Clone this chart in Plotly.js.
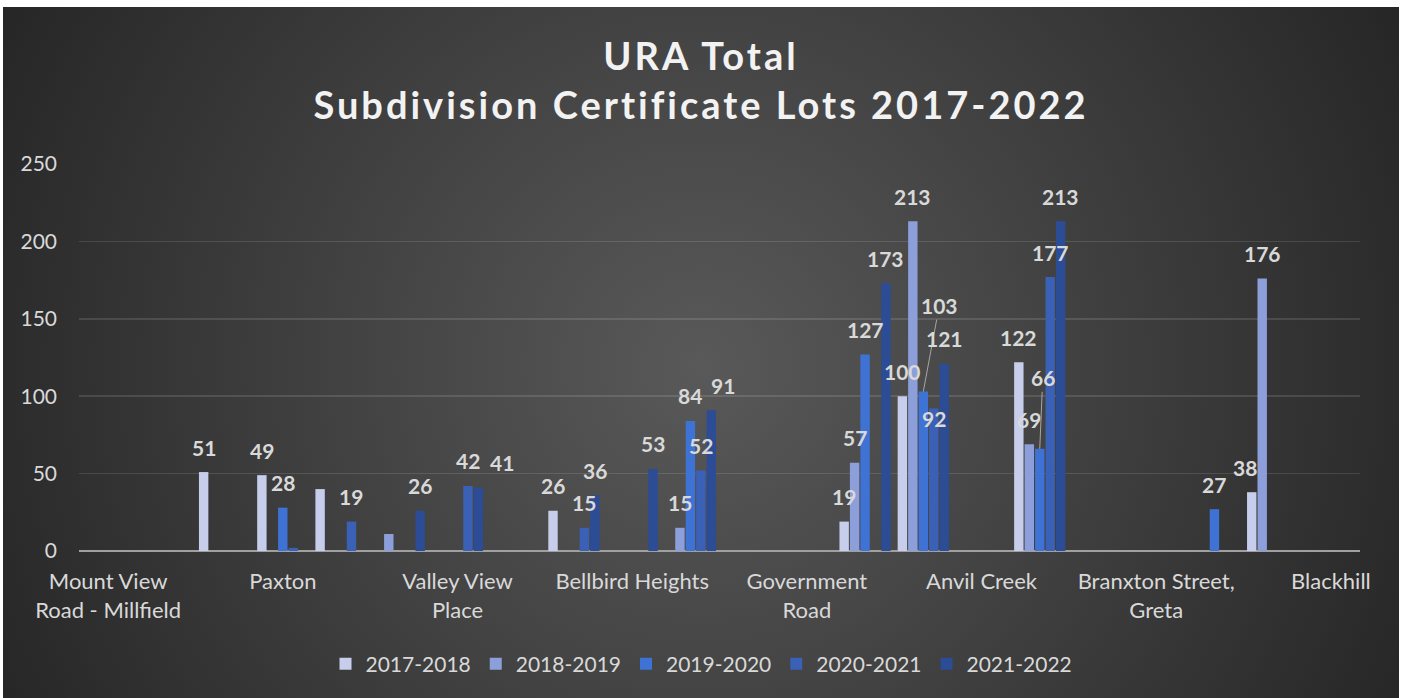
<!DOCTYPE html>
<html>
<head>
<meta charset="utf-8">
<script src="https://cdn.plot.ly/plotly-3.0.1.min.js"></script>
<style>
  html, body { margin: 0; padding: 0; background: #ffffff; }
  #chart {
    position: absolute; left: 3px; top: 7px; width: 1396px; height: 691px;
    background: radial-gradient(circle farthest-corner at 50% 52%, #595959 0%, #454545 40%, #262626 100%);
  }
  #chart .gtitle { letter-spacing: 3px; }
</style>
</head>
<body>
<div id="chart"></div>
<script>
// ---- data ----
const seriesNames = ["2017-2018", "2018-2019", "2019-2020", "2020-2021", "2021-2022"];
const positions = [1, 2, 3, 4, 5, 6, 7, 8, 9, 10, 11, 12, 13, 14, 15, 16, 17, 18, 19, 20, 21, 22];
const labelPositions = [1, 4, 7, 10, 13, 16, 19, 22];
const locationLabels = ["Mount View<br>Road - Millfield", "Paxton", "Valley View<br>Place", "Bellbird Heights",
                        "Government<br>Road", "Anvil Creek", "Branxton Street,<br>Greta", "Blackhill"];
const n = null;
const lots2017 = [n, n, 51, 49, 40, n, n, n, 26, n, n, n, n, 19, 100, n, 122, n, n, n, 38, n];
const lots2018 = [n, n, n, n, n, 11, n, n, n, n, 15, n, n, 57, 213, n, 69, n, n, n, 176, n];
const lots2019 = [n, n, n, 28, n, n, n, n, n, n, 84, n, n, 127, 103, n, 66, n, n, 27, n, n];
const lots2020 = [n, n, n, 2, 19, n, 42, n, 15, n, 52, n, n, n, 92, n, 177, n, n, n, n, n];
const lots2021 = [n, n, n, n, n, 26, 41, n, 36, 53, 91, n, n, 173, 121, n, 213, n, n, n, n, n];
const allSeries = [lots2017, lots2018, lots2019, lots2020, lots2021];
const yTicks = [0, 50, 100, 150, 200, 250];

// labels that are not shown in the original (series index, position index)
const hiddenLabels = ["0-4", "1-5", "3-3"];

// ---- styles ----
const colors = ["#C7CEEB", "#8C9FDA", "#3E72D4", "#3A61B5", "#2C4C96"];
const FONT = "Lato, 'Open Sans', sans-serif";
const W = 1396, H = 691;
const margin = { l: 76, r: 39, t: 157, b: 147 };
const bargap = 0.102;
const catPx = (W - margin.l - margin.r) / positions.length;
const pitch = catPx * (1 - bargap) / seriesNames.length;
const labelStyle = {
  "4-6":  { dx: 24 },
  "4-10": { dx: 12 },
  "3-14": { dy: -35 },
  "0-20": { dx: -7 },
  "2-14": { ax: 16, ay: -86 },
  "2-16": { ax: 3, ay: -71 }
};

const traces = allSeries.map((vals, s) => ({
  type: "bar",
  name: seriesNames[s],
  x: positions,
  y: vals,
  marker: { color: colors[s], line: { width: 0 } },
  hoverinfo: "x+y+name"
}));

const annotations = [];
allSeries.forEach((vals, s) => {
  vals.forEach((v, i) => {
    if (v === null) return;
    const key = s + "-" + i;
    if (hiddenLabels.includes(key)) return;
    const st = labelStyle[key] || {};
    const a = {
      x: positions[i], y: v, xref: "x", yref: "y",
      text: String(v),
      font: { family: FONT, size: 21, color: "#D9D9D9", weight: "bold" },
      xshift: (s - 2) * pitch + (st.dx || 0),
      xanchor: "center", yanchor: "middle"
    };
    if (st.ax !== undefined) {
      Object.assign(a, { showarrow: true, ax: st.ax, ay: st.ay, arrowhead: 0,
        arrowwidth: 1, arrowcolor: "#A6A6A6", standoff: 0 });
    } else {
      Object.assign(a, { showarrow: false, yshift: 25 + (st.dy || 0) });
    }
    annotations.push(a);
  });
});

const layout = {
  width: W, height: H,
  margin: margin,
  paper_bgcolor: "rgba(0,0,0,0)",
  plot_bgcolor: "rgba(0,0,0,0)",
  barmode: "group",
  bargap: bargap,
  bargroupgap: 0.1,
  showlegend: true,
  title: {
    text: "URA Total<br>Subdivision Certificate Lots 2017-2022",
    font: { family: FONT, size: 38, color: "#F2F2F2", weight: "bold" },
    x: 0.5, xanchor: "center",
    y: 1 - 63 / H, yref: "container", yanchor: "middle"
  },
  xaxis: {
    range: [0.5, 22.5],
    tickmode: "array", tickvals: labelPositions, ticktext: locationLabels,
    tickfont: { family: FONT, size: 22, color: "#D9D9D9" },
    showgrid: false, zeroline: false, showline: false, ticks: "",
    ticklabelstandoff: 15, tickangle: 0, fixedrange: true
  },
  yaxis: {
    range: [0, 250],
    tickmode: "array", tickvals: yTicks,
    tickfont: { family: FONT, size: 21, color: "#D9D9D9" },
    showgrid: true, gridcolor: "rgba(255,255,255,0.12)", gridwidth: 1.5,
    zeroline: true, zerolinecolor: "#A0A0A0", zerolinewidth: 2,
    showline: false, ticks: "", ticklabelstandoff: 21, fixedrange: true
  },
  legend: {
    orientation: "h", x: 0.5 - 18 / (W - margin.l - margin.r), xanchor: "center",
    y: (H - margin.b - 657) / (H - margin.t - margin.b), yanchor: "middle",
    font: { family: FONT, size: 21, color: "#D9D9D9" },
    bgcolor: "rgba(0,0,0,0)", traceorder: "normal"
  },
  annotations: annotations
};

Plotly.newPlot("chart", traces, layout, { displayModeBar: false, staticPlot: true });
</script>
</body>
</html>
